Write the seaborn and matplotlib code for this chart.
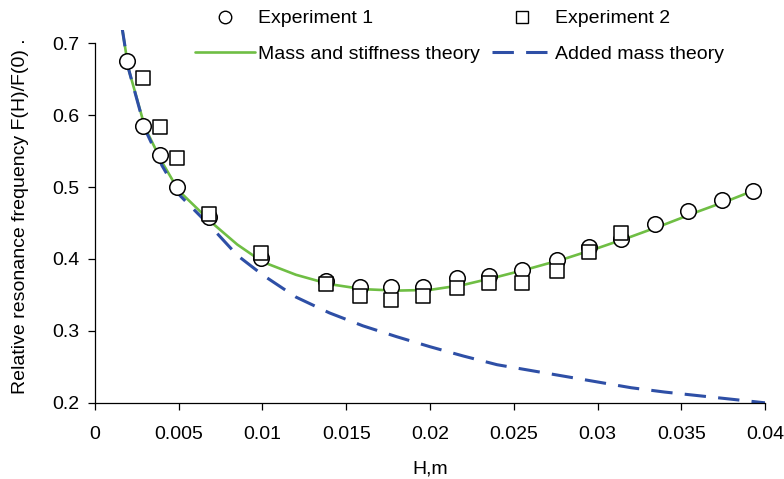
import numpy as np
import pandas as pd
import seaborn as sns
import matplotlib
matplotlib.use("Agg")
import matplotlib.pyplot as plt
from matplotlib.lines import Line2D

# Experiment 1 (circles)
h_exp1 = [0.0019, 0.0029, 0.0039, 0.0049, 0.0068, 0.0099, 0.0138, 0.0158, 0.0177,
          0.0196, 0.0216, 0.0235, 0.0255, 0.0276, 0.0295, 0.0314, 0.0334, 0.0354,
          0.0374, 0.0393]
f_exp1 = [0.675, 0.585, 0.545, 0.500, 0.459, 0.402, 0.370, 0.361, 0.361,
          0.361, 0.374, 0.376, 0.385, 0.399, 0.417, 0.428, 0.448, 0.467,
          0.482, 0.494]

# Experiment 2 (squares)
h_exp2 = [0.0029, 0.0039, 0.0049, 0.0068, 0.0099, 0.0138, 0.0158, 0.0177, 0.0196,
          0.0216, 0.0235, 0.0255, 0.0276, 0.0295, 0.0314]
f_exp2 = [0.652, 0.583, 0.540, 0.463, 0.408, 0.365, 0.349, 0.343, 0.349,
          0.360, 0.366, 0.366, 0.383, 0.409, 0.436]

# Mass and stiffness theory
h_ms = [0.0016, 0.002, 0.003, 0.004, 0.005, 0.007, 0.0085, 0.010, 0.012, 0.014,
        0.016, 0.018, 0.020, 0.022, 0.024, 0.026, 0.028, 0.030, 0.032, 0.034,
        0.036, 0.038, 0.0393]
f_ms = [0.725, 0.665, 0.582, 0.535, 0.495, 0.450, 0.420, 0.396, 0.378, 0.365,
        0.358, 0.356, 0.357, 0.364, 0.375, 0.387, 0.400, 0.415, 0.431, 0.448,
        0.466, 0.483, 0.495]

# Added mass theory
h_am = [0.0016, 0.002, 0.003, 0.004, 0.005, 0.007, 0.0085, 0.010, 0.012, 0.014,
        0.016, 0.018, 0.020, 0.022, 0.024, 0.026, 0.028, 0.030, 0.032, 0.034,
        0.036, 0.038, 0.040]
f_am = [0.725, 0.665, 0.580, 0.530, 0.490, 0.443, 0.405, 0.378, 0.347, 0.325,
        0.307, 0.292, 0.278, 0.265, 0.253, 0.245, 0.237, 0.229, 0.221, 0.215,
        0.210, 0.205, 0.200]

sns.set_style("ticks")
plt.rcParams['font.family'] = ['Liberation Sans', 'DejaVu Sans']
plt.rcParams['text.color'] = 'black'
plt.rcParams['axes.labelcolor'] = 'black'

green = '#6fbe44'
blue = '#2e4fa6'

fig = plt.figure(figsize=(7.84, 4.79), dpi=100)
ax = fig.add_axes([0.121, 0.159, 0.855, 0.778])

sns.lineplot(x=h_ms, y=f_ms, ax=ax, color=green, linewidth=1.9, sort=False)
sns.lineplot(x=h_am, y=f_am, ax=ax, color=blue, linewidth=2.2, sort=False)
ax.lines[-1].set_dashes([7, 4])

sns.scatterplot(x=h_exp1, y=f_exp1, ax=ax, marker='o', s=125, facecolor='white',
                edgecolor='black', linewidth=1.1, zorder=3)
sns.scatterplot(x=h_exp2, y=f_exp2, ax=ax, marker='s', s=115, facecolor='white',
                edgecolor='black', linewidth=1.1, zorder=4)

ax.set_xlim(0, 0.04)
ax.set_ylim(0.2, 0.718)
ax.set_xticks(np.arange(0, 0.0401, 0.005))
ax.set_xticklabels(['0', '0.005', '0.01', '0.015', '0.02', '0.025', '0.03',
                    '0.035', '0.04'])
ax.set_yticks(np.arange(0.2, 0.701, 0.1))
ax.set_yticklabels(['0.2', '0.3', '0.4', '0.5', '0.6', '0.7'])
ax.spines['left'].set_bounds(0.2, 0.7)
for s in ['top', 'right']:
    ax.spines[s].set_visible(False)
for s in ['left', 'bottom']:
    ax.spines[s].set_color('black')
    ax.spines[s].set_linewidth(0.9)
ax.tick_params(axis='both', length=5, width=0.9, colors='black', labelsize=14)
ax.tick_params(axis='x', pad=12)
ax.tick_params(axis='y', pad=6)

ax.set_xlabel('H,m', fontsize=14, labelpad=12)
ax.set_ylabel('Relative resonance frequency F(H)/F(0) .', fontsize=14, labelpad=17)

handles = [
    Line2D([], [], marker='o', linestyle='none', markerfacecolor='white',
           markeredgecolor='black', markersize=9),
    Line2D([], [], color=green, linewidth=1.9),
    Line2D([], [], marker='s', linestyle='none', markerfacecolor='white',
           markeredgecolor='black', markersize=8.5),
    Line2D([], [], color=blue, linewidth=2.2, dashes=[7, 4]),
]
labels = ['Experiment 1', 'Mass and stiffness theory', 'Experiment 2',
          'Added mass theory']
fig.legend(handles, labels, ncol=2, frameon=False, fontsize=14,
           loc='upper left', bbox_to_anchor=(0.226, 1.016),
           columnspacing=0.62, handlelength=3.1, handletextpad=0.15,
           labelspacing=0.9)

fig.savefig('out.png', dpi=100)
